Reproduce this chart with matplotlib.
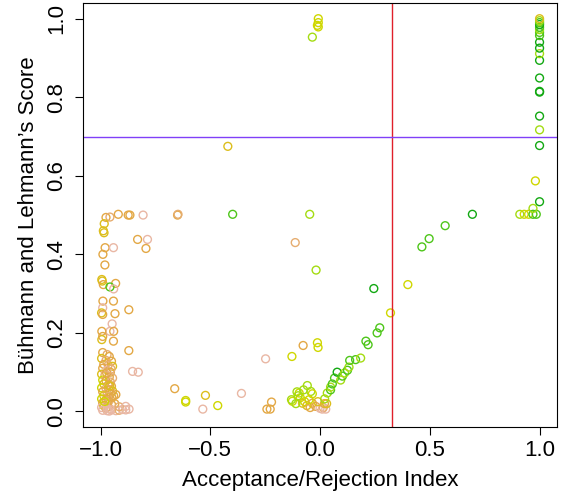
import matplotlib
matplotlib.use('Agg')
import matplotlib.pyplot as plt

plt.rcParams['font.family'] = ['Liberation Sans', 'DejaVu Sans']

# shade palette (pink -> tan -> orange -> gold -> yellow -> lime -> green -> dark green)
palette = ['#E9B7A4', '#E6AD70', '#E3A845', '#DCBE1C', '#CFD700', '#A4DC12', '#4EC61A', '#12A812']

# acceptance/rejection index, Buhlmann-Lehmann score, shade index
accept_idx = [
    -0.975, -0.957, -0.919, -0.874, -0.866, -0.806, -0.649, -0.983, -0.987, -0.984,
    -0.831, -0.786, -0.793, -0.979, -0.941, -0.989, -0.980, -0.994, -0.992, -0.987,
    -0.931, -0.957, -0.940, -0.989, -0.941, -0.990, -0.995, -0.990, -0.934, -0.871,
    -0.947, -0.957, -0.994, -0.940, -0.994, -0.990, -0.941, -0.871, -0.854, -0.828,
    -0.662, -0.612, -0.612,
    -0.990, -0.970, -0.960, -0.995, -0.975, -0.950, -0.985, -0.965, -0.945, -0.990,
    -0.970, -0.955, -0.995, -0.980, -0.960, -0.945, -0.990, -0.975, -0.955, -0.985,
    -0.965, -0.950, -0.995, -0.975, -0.960, -0.945, -0.990, -0.970, -0.955, -0.985,
    -0.965, -0.948, -0.995, -0.975, -0.960, -0.990, -0.970, -0.950, -0.985, -0.965,
    -0.995, -0.975, -0.955, -0.940, -0.935, -0.982, -0.958, -0.972, -0.952,
    -0.990, -0.970, -0.950, -0.930, -0.915, -0.900, -0.885, -0.870, -0.915, -0.960,
    -0.930, -0.885,
    -0.522, -0.534, -0.466, -0.358, -0.248, -0.221, -0.242, -0.227, -0.128, -0.077,
    -0.012, -0.009, -0.420, -0.647, -0.398, -0.047, -0.113, -0.018,
    -0.008, -0.008, -0.012, -0.008, -0.035,
    -0.058, -0.042, -0.035, -0.095, -0.100, -0.090, -0.126, -0.130, -0.080, -0.070,
    -0.035, -0.020, -0.060, -0.045, 0.000, 0.010, 0.015, 0.026, 0.020, -0.110,
    -0.105, -0.075, -0.050, -0.010, 0.030,
    0.021, 0.033, 0.048, 0.048, 0.056, 0.066, 0.078, 0.094, 0.102, 0.112,
    0.125, 0.132, 0.135, 0.162, 0.185, 0.209, 0.219, 0.260, 0.272, 0.245,
    0.321, 0.400, 0.464, 0.497, 0.570, 0.694,
    0.910, 0.930, 0.950, 0.970, 0.985, 0.970, 0.981, 1.000,
    1.000, 1.000, 1.000, 1.000, 1.000, 1.000, 1.000, 1.000, 1.000, 1.000,
    1.000, 1.000, 1.000, 1.000, 1.000, 1.000, 1.000, 1.000,
]
score = [
    0.494, 0.495, 0.502, 0.500, 0.500, 0.500, 0.500, 0.478, 0.460, 0.455,
    0.438, 0.438, 0.415, 0.417, 0.417, 0.400, 0.373, 0.336, 0.332, 0.323,
    0.326, 0.317, 0.312, 0.281, 0.281, 0.264, 0.251, 0.247, 0.249, 0.259,
    0.223, 0.204, 0.204, 0.204, 0.183, 0.191, 0.179, 0.155, 0.102, 0.100,
    0.058, 0.028, 0.024,
    0.150, 0.145, 0.140, 0.135, 0.130, 0.128, 0.120, 0.118, 0.115, 0.110,
    0.105, 0.100, 0.095, 0.092, 0.088, 0.085, 0.080, 0.078, 0.075, 0.070,
    0.067, 0.064, 0.060, 0.058, 0.055, 0.052, 0.050, 0.047, 0.045, 0.040,
    0.038, 0.035, 0.032, 0.030, 0.028, 0.022, 0.020, 0.018, 0.015, 0.012,
    0.010, 0.008, 0.006, 0.040, 0.020, 0.025, 0.065, 0.098, 0.108,
    0.003, 0.002, 0.004, 0.002, 0.003, 0.005, 0.004, 0.006, 0.012, 0.001,
    0.043, 0.013,
    0.041, 0.006, 0.015, 0.046, 0.134, 0.024, 0.006, 0.006, 0.140, 0.168,
    0.175, 0.163, 0.675, 0.502, 0.502, 0.502, 0.430, 0.360,
    1.000, 0.990, 0.983, 0.979, 0.953,
    0.066, 0.051, 0.045, 0.047, 0.040, 0.035, 0.026, 0.030, 0.021, 0.025,
    0.021, 0.013, 0.015, 0.010, 0.008, 0.006, 0.010, 0.006, 0.020, 0.020,
    0.050, 0.055, 0.030, 0.025, 0.020,
    0.032, 0.047, 0.055, 0.062, 0.070, 0.085, 0.100, 0.080, 0.090, 0.098,
    0.105, 0.113, 0.130, 0.132, 0.136, 0.179, 0.170, 0.200, 0.213, 0.313,
    0.251, 0.323, 0.419, 0.440, 0.473, 0.502,
    0.502, 0.502, 0.502, 0.502, 0.502, 0.517, 0.587, 0.534,
    0.677, 0.717, 0.752, 0.813, 0.815, 0.849, 0.894, 0.911, 0.925, 0.940,
    0.957, 0.965, 0.972, 0.978, 0.985, 0.990, 0.995, 1.000,
]
shade = [
    2, 1, 2, 2, 2, 0, 2, 3, 3, 3,
    2, 0, 2, 2, 0, 2, 2, 3, 3, 2,
    2, 6, 0, 2, 2, 0, 3, 2, 2, 2,
    0, 0, 2, 2, 3, 2, 2, 2, 0, 0,
    2, 4, 4,
    2, 1, 2, 3, 1, 2, 2, 1, 3, 2,
    0, 2, 3, 1, 2, 1, 4, 2, 1, 3,
    2, 2, 4, 1, 2, 3, 2, 1, 2, 3,
    1, 2, 4, 2, 1, 2, 1, 2, 3, 1,
    0, 1, 0, 2, 2, 4, 3, 2, 1,
    0, 0, 0, 0, 1, 0, 0, 0, 1, 0,
    2, 0,
    3, 0, 4, 0, 0, 2, 2, 2, 4, 2,
    4, 4, 3, 1, 6, 5, 1, 5,
    4, 4, 4, 4, 5,
    5, 5, 4, 4, 5, 4, 4, 5, 3, 4,
    2, 2, 3, 2, 0, 0, 1, 0, 2, 5,
    5, 5, 4, 3, 3,
    5, 5, 6, 5, 6, 6, 7, 5, 6, 5,
    6, 5, 6, 6, 5, 6, 6, 6, 6, 7,
    4, 4, 6, 6, 6, 7,
    5, 4, 4, 6, 6, 5, 4, 7,
    7, 5, 7, 7, 7, 7, 7, 5, 7, 7,
    6, 6, 5, 6, 7, 6, 5, 3,
]

cut_x = 0.33
cut_y = 0.7

fig = plt.figure(figsize=(5.72, 4.95), dpi=100)
ax = fig.add_axes([0.145, 0.137, 0.829, 0.857])

ax.scatter(accept_idx, score, s=32, facecolors='none',
           edgecolors=[palette[k] for k in shade], linewidths=1.0)
ax.axvline(cut_x, color='#E0202A', lw=1.0)
ax.axhline(cut_y, color='#8040F8', lw=1.0)

ax.set_xlim(-1.08, 1.08)
ax.set_ylim(-0.04, 1.04)
ax.set_xticks([-1.0, -0.5, 0.0, 0.5, 1.0])
ax.set_yticks([0.0, 0.2, 0.4, 0.6, 0.8, 1.0])
ax.set_xticklabels(['\u22121.0', '\u22120.5', '0.0', '0.5', '1.0'])
ax.set_yticklabels(['0.0', '0.2', '0.4', '0.6', '0.8', '1.0'], rotation=90, va='center')
ax.tick_params(direction='out', length=5.5, width=0.8, labelsize=16)
ax.tick_params(axis='x', pad=4)
ax.tick_params(axis='y', pad=6)
for sp in ax.spines.values():
    sp.set_linewidth(0.8)

ax.set_xlabel('Acceptance/Rejection Index', fontsize=16, labelpad=6)
ax.set_ylabel('B\u00fchmann and Lehmann\u2019s Score', fontsize=16, labelpad=5)

fig.savefig('out.png', dpi=100)
